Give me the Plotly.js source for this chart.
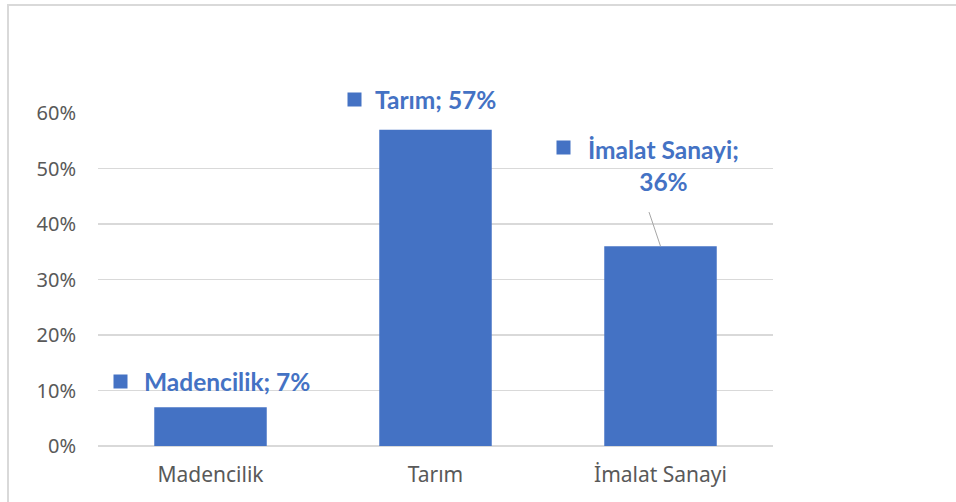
<!DOCTYPE html>
<html>
<head>
<meta charset="utf-8">
<script src="https://cdn.plot.ly/plotly-3.0.1.min.js"></script>
<style>
  body { margin: 0; overflow: hidden; background: #fff; }
  #chart { width: 956px; height: 502px; }
  #frame { position: absolute; left: 7px; top: 4px; width: 980px; height: 600px;
           border: 2px solid #d9d9d9; pointer-events: none; }
</style>
</head>
<body>
<div id="chart"></div>
<div id="frame"></div>
<script>
const sectors = ['Madencilik', 'Tarım', 'İmalat Sanayi'];
const shares = [0.07, 0.57, 0.36];
const yTicks = [0, 0.1, 0.2, 0.3, 0.4, 0.5, 0.6];
const yTickText = ['0%', '10%', '20%', '30%', '40%', '50%', '60%'];
const labelText = ['Madencilik; 7%', 'Tarım; 57%', 'İmalat Sanayi;<br>36%'];

const blue = '#4472C4';

// label placement, in pixels relative to the bar top
const textShift = [[16, 26], [0, 30], [2.5, 81]];
const keyShift = [[-90, 26], [-81, 30], [-97, 99]];

const annotations = [];
sectors.forEach((s, i) => {
    annotations.push({
        x: s, y: shares[i], xref: 'x', yref: 'y',
        text: '<b>' + labelText[i] + '</b>',
        showarrow: false,
        xanchor: 'center', yanchor: 'middle',
        xshift: textShift[i][0], yshift: textShift[i][1],
        font: { family: 'Lato, sans-serif', size: 24.5, color: blue },
        align: 'center'
    });
    annotations.push({
        x: s, y: shares[i], xref: 'x', yref: 'y',
        text: ' ', showarrow: false,
        width: 13, height: 13, bgcolor: blue, borderpad: 0,
        xanchor: 'center', yanchor: 'middle',
        xshift: keyShift[i][0], yshift: keyShift[i][1]
    });
});

// leader line for the İmalat Sanayi label
annotations.push({
    x: sectors[2], y: shares[2], xref: 'x', yref: 'y',
    text: ' ', showarrow: true, arrowhead: 0, arrowwidth: 1,
    arrowcolor: '#a6a6a6', ax: -15.5, ay: -46, standoff: 0
});

const trace = {
    type: 'bar',
    x: sectors,
    y: shares,
    marker: { color: blue },
    hoverinfo: 'none'
};

const layout = {
    width: 956,
    height: 502,
    margin: { l: 98, r: 183, t: 113, b: 56 },
    paper_bgcolor: '#fff',
    plot_bgcolor: '#fff',
    bargap: 0.5,
    showlegend: false,
    font: { family: 'Noto Sans, sans-serif', color: '#595959', size: 21 },
    xaxis: {
        showgrid: false,
        showline: false,
        ticks: '',
        ticklabelstandoff: 14,
        tickfont: { size: 21, color: '#595959' }
    },
    yaxis: {
        range: [0, 0.6],
        tickvals: yTicks,
        ticktext: yTickText,
        showgrid: true,
        gridcolor: '#d9d9d9',
        gridwidth: 1.5,
        zeroline: true,
        zerolinecolor: '#d9d9d9',
        zerolinewidth: 1.5,
        ticks: '',
        ticklabelstandoff: 21,
        tickfont: { size: 20, color: '#595959' }
    },
    annotations: annotations
};

Plotly.newPlot('chart', [trace], layout, { staticPlot: true });
</script>
</body>
</html>
